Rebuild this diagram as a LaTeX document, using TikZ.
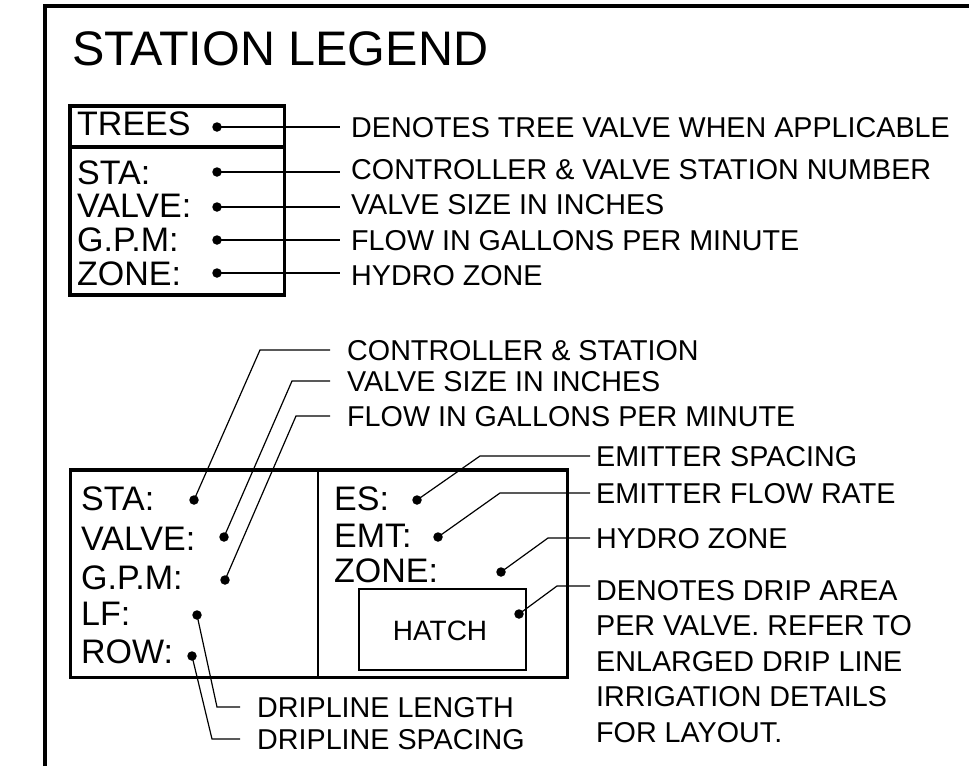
\documentclass[tikz,border=0pt]{standalone}
\usepackage{fontspec}
\setmainfont{Liberation Sans}
\usetikzlibrary{positioning}
\tikzset{
    frameline/.style={line width=4.5pt},
    boxline/.style={line width=3.5pt},
    thinline/.style={line width=1.2pt},
    leader/.style={line width=1.2pt},
    dot/.style={circle, fill=black, inner sep=0pt, minimum size=9.5pt},
    cell/.style={inner sep=0pt, font=\fontsize{34}{34}\selectfont},
    lbl/.style={inner sep=0pt, font=\fontsize{28.7}{35.5}\selectfont},
}

\begin{document}
\begin{tikzpicture}[x=1pt,y=-1pt]
            \useasboundingbox (0,0) rectangle (969,766);

            % Sheet frame and title
            \draw[frameline] (45,766) -- (45,6) -- (969,6);
            \node[anchor=base west, inner sep=0pt, font=\fontsize{48.5}{48.5}\selectfont] (title) at (72,65) {STATION LEGEND};

            % Valve legend box
            \draw[boxline] (70,106) rectangle (284.5,295);
            \draw[boxline] (70,147) -- (284.5,147);
            \node[cell, anchor=base west] (t-trees) at (77,135) {TREES};
            \foreach \nm/\y/\txt in {sta/184/STA:, valve/217/VALVE:, gpm/251/G.P.M:, zone/285/ZONE:} {
                \node[cell, anchor=base west] (t-\nm) at (77,\y) {\txt};
            }
            \foreach \nm/\y/\ly/\txt in {trees/127/128/DENOTES TREE VALVE WHEN APPLICABLE, sta/172/170/{CONTROLLER \& VALVE STATION NUMBER}, valve/207/205/VALVE SIZE IN INCHES, gpm/240/241/FLOW IN GALLONS PER MINUTE, zone/273/276/HYDRO ZONE} {
                \node[dot] (d-\nm) at (217,\y) {};
                \coordinate (e-\nm) at (340,\y);
                \draw[leader] (d-\nm.center) -- (e-\nm);
                \node[lbl, anchor=west] (l-\nm) at (351,\ly) {\txt};
            }

            % Drip legend box
            \draw[boxline] (70.5,470) rectangle (567.5,677.5);
            \draw[thinline] (318,470) -- (318,677.5);
            \draw[thinline] (359,589) rectangle (526,670);
            \node[font=\fontsize{28}{28}\selectfont] (hatch) at (440,631) {HATCH};
            \foreach \nm/\y/\txt in {bsta/510/STA:, bvalve/550/VALVE:, bgpm/589/G.P.M:, lf/625/LF:, row/663/ROW:} {
                \node[cell, anchor=base west] (t-\nm) at (81,\y) {\txt};
            }
            \foreach \nm/\y/\txt in {es/510/ES:, emt/547/EMT:, bzone/582/ZONE:} {
                \node[cell, anchor=base west] (t-\nm) at (334,\y) {\txt};
            }

            % Leaders with an elbow
            \foreach \nm/\dx/\dy/\ex/\ey/\fx/\gap/\txt in {
                bsta/194/500/260/350/330/17/{CONTROLLER \& STATION},
                bvalve/224/537/292/381/330/17/VALVE SIZE IN INCHES,
                bgpm/225/580/296/416/330/17/FLOW IN GALLONS PER MINUTE,
                lf/197/615/217/707/240/17/DRIPLINE LENGTH,
                row/192/656/212/739/240/17/DRIPLINE SPACING,
                es/417/500/480/456/590/6/EMITTER SPACING,
                emt/438/537/500/493/590/6/EMITTER FLOW RATE,
                bzone/501/572/548/538/590/6/HYDRO ZONE} {
                \node[dot] (d-\nm) at (\dx,\dy) {};
                \coordinate (k-\nm) at (\ex,\ey);
                \coordinate (e-\nm) at (\fx,\ey);
                \draw[leader] (d-\nm.center) -- (k-\nm) -- (e-\nm);
                \node[lbl, anchor=west] (l-\nm) at (\fx+\gap,\ey+1) {\txt};
            }

            % Drip area note
            \node[dot] (d-hatch) at (519,614) {};
            \coordinate (k-hatch) at (557,586);
            \coordinate (e-hatch) at (590,586);
            \draw[leader] (d-hatch.center) -- (k-hatch) -- (e-hatch);
            \node[lbl, anchor=north west, align=left] (l-hatch) at (596,580) {DENOTES DRIP AREA\\PER VALVE. REFER TO\\ENLARGED DRIP LINE\\IRRIGATION DETAILS\\FOR LAYOUT.};
\end{tikzpicture}
\end{document}
